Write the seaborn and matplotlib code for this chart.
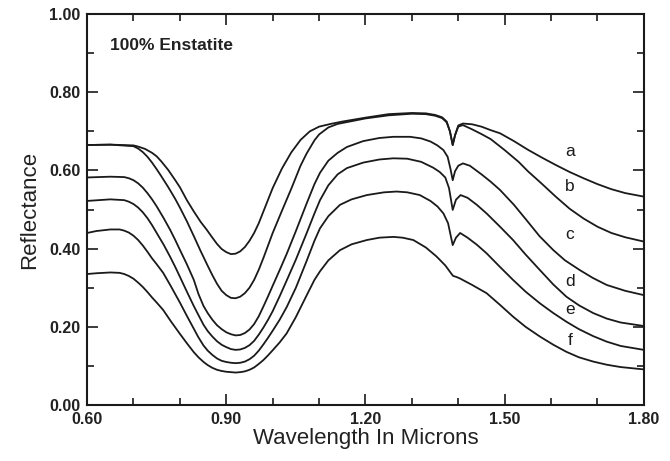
import matplotlib
matplotlib.use("Agg")
import matplotlib.pyplot as plt
import seaborn as sns
import pandas as pd
from matplotlib.ticker import MultipleLocator

# ---- data ----
wl_a = [0.60, 0.65, 0.70, 0.71, 0.725, 0.74, 0.75, 0.76, 0.775, 0.79, 0.80, 0.815, 0.83, 0.845, 0.858, 0.87,
        0.88, 0.89, 0.90, 0.91, 0.92, 0.93, 0.94, 0.95, 0.96, 0.97, 0.98, 1.00, 1.02, 1.04, 1.06, 1.08,
        1.10, 1.125, 1.15, 1.20, 1.25, 1.30, 1.33, 1.35, 1.365, 1.375, 1.382, 1.388, 1.393, 1.40, 1.41,
        1.43, 1.45, 1.47, 1.49, 1.52, 1.55, 1.58, 1.61, 1.64, 1.67, 1.70, 1.73, 1.76, 1.80]
refl_a = [0.665, 0.666, 0.664, 0.661, 0.655, 0.645, 0.636, 0.623, 0.601, 0.575, 0.557, 0.524, 0.495, 0.468, 0.448, 0.428,
          0.412, 0.399, 0.391, 0.386, 0.387, 0.393, 0.404, 0.420, 0.440, 0.465, 0.495, 0.555, 0.605, 0.646, 0.678, 0.700,
          0.712, 0.719, 0.725, 0.735, 0.744, 0.747, 0.746, 0.742, 0.736, 0.725, 0.700, 0.665, 0.690, 0.715, 0.720,
          0.718, 0.712, 0.703, 0.695, 0.675, 0.653, 0.633, 0.614, 0.596, 0.580, 0.565, 0.552, 0.542, 0.533]

wl_b = [0.60, 0.65, 0.70, 0.71, 0.72, 0.73, 0.74, 0.75, 0.76, 0.775, 0.79, 0.80, 0.815, 0.83, 0.845, 0.86,
        0.87, 0.88, 0.89, 0.90, 0.91, 0.92, 0.93, 0.94, 0.95, 0.96, 0.97, 0.98, 1.00, 1.02, 1.04, 1.06,
        1.073, 1.09, 1.10, 1.12, 1.14, 1.17, 1.20, 1.25, 1.30, 1.33, 1.35, 1.365, 1.375, 1.382, 1.388,
        1.393, 1.40, 1.41, 1.43, 1.45, 1.47, 1.50, 1.53, 1.55, 1.58, 1.61, 1.64, 1.67, 1.70, 1.73, 1.76, 1.80]
refl_b = [0.665, 0.666, 0.662, 0.656, 0.647, 0.635, 0.620, 0.603, 0.585, 0.557, 0.527, 0.505, 0.470, 0.432, 0.393, 0.356,
          0.332, 0.310, 0.292, 0.281, 0.274, 0.273, 0.277, 0.286, 0.300, 0.320, 0.346, 0.376, 0.440, 0.497, 0.553, 0.612,
          0.643, 0.677, 0.692, 0.710, 0.719, 0.726, 0.733, 0.741, 0.745, 0.744, 0.740, 0.734, 0.723, 0.700, 0.665,
          0.690, 0.712, 0.716, 0.705, 0.693, 0.680, 0.652, 0.622, 0.598, 0.566, 0.533, 0.502, 0.477, 0.456, 0.440, 0.429, 0.418]

wl_c = [0.60, 0.65, 0.68, 0.69, 0.70, 0.71, 0.72, 0.73, 0.74, 0.75, 0.765, 0.779, 0.79, 0.80, 0.815, 0.83,
        0.84, 0.851, 0.86, 0.87, 0.88, 0.89, 0.90, 0.91, 0.92, 0.93, 0.94, 0.95, 0.96, 0.97, 0.98, 0.99,
        1.00, 1.015, 1.03, 1.05, 1.073, 1.09, 1.102, 1.12, 1.14, 1.16, 1.195, 1.23, 1.26, 1.296, 1.32,
        1.34, 1.355, 1.368, 1.377, 1.383, 1.388, 1.393, 1.40, 1.41, 1.425, 1.45, 1.47, 1.49, 1.52, 1.547,
        1.575, 1.605, 1.63, 1.662, 1.69, 1.72, 1.76, 1.80]
refl_c = [0.582, 0.584, 0.583, 0.580, 0.575, 0.567, 0.556, 0.542, 0.526, 0.508, 0.478, 0.448, 0.422, 0.397, 0.360, 0.320,
          0.284, 0.253, 0.235, 0.218, 0.204, 0.194, 0.186, 0.181, 0.178, 0.179, 0.184, 0.193, 0.207, 0.227, 0.252, 0.278,
          0.305, 0.345, 0.386, 0.445, 0.515, 0.565, 0.594, 0.625, 0.645, 0.660, 0.675, 0.683, 0.686, 0.686, 0.682,
          0.674, 0.664, 0.652, 0.635, 0.605, 0.575, 0.598, 0.612, 0.618, 0.612, 0.590, 0.571, 0.550, 0.512, 0.473,
          0.432, 0.396, 0.370, 0.345, 0.325, 0.307, 0.292, 0.281]

wl_d = [0.60, 0.65, 0.68, 0.69, 0.70, 0.71, 0.72, 0.73, 0.74, 0.75, 0.765, 0.779, 0.79, 0.80, 0.815, 0.83,
        0.84, 0.851, 0.86, 0.87, 0.88, 0.89, 0.90, 0.91, 0.92, 0.93, 0.94, 0.95, 0.96, 0.97, 0.98, 0.99,
        1.00, 1.015, 1.03, 1.05, 1.073, 1.09, 1.102, 1.12, 1.14, 1.16, 1.195, 1.23, 1.26, 1.29, 1.32,
        1.346, 1.36, 1.372, 1.38, 1.388, 1.395, 1.405, 1.42, 1.44, 1.461, 1.49, 1.518, 1.545, 1.576, 1.605,
        1.633, 1.66, 1.691, 1.72, 1.75, 1.80]
refl_d = [0.522, 0.526, 0.524, 0.520, 0.514, 0.505, 0.493, 0.478, 0.460, 0.440, 0.410, 0.379, 0.353, 0.328, 0.290, 0.253,
          0.230, 0.205, 0.189, 0.175, 0.163, 0.154, 0.148, 0.143, 0.141, 0.142, 0.146, 0.153, 0.164, 0.180, 0.198, 0.218,
          0.240, 0.278, 0.318, 0.372, 0.439, 0.490, 0.524, 0.562, 0.590, 0.606, 0.620, 0.628, 0.631, 0.630, 0.622,
          0.607, 0.596, 0.582, 0.555, 0.499, 0.525, 0.537, 0.530, 0.512, 0.490, 0.456, 0.422, 0.385, 0.345, 0.308,
          0.277, 0.255, 0.235, 0.221, 0.211, 0.202]

wl_e = [0.60, 0.62, 0.65, 0.67, 0.68, 0.69, 0.70, 0.71, 0.72, 0.73, 0.74, 0.75, 0.764, 0.78, 0.80, 0.815,
        0.83, 0.84, 0.851, 0.86, 0.87, 0.88, 0.89, 0.90, 0.91, 0.92, 0.93, 0.94, 0.95, 0.96, 0.97, 0.98,
        0.99, 1.00, 1.015, 1.03, 1.05, 1.073, 1.09, 1.102, 1.12, 1.145, 1.17, 1.203, 1.24, 1.267, 1.29,
        1.317, 1.34, 1.355, 1.368, 1.378, 1.388, 1.395, 1.404, 1.42, 1.44, 1.461, 1.49, 1.518, 1.545, 1.576,
        1.605, 1.633, 1.66, 1.691, 1.72, 1.75, 1.80]
refl_e = [0.440, 0.445, 0.449, 0.449, 0.446, 0.441, 0.433, 0.422, 0.408, 0.392, 0.375, 0.360, 0.338, 0.305, 0.262, 0.228,
          0.195, 0.173, 0.152, 0.139, 0.128, 0.119, 0.113, 0.110, 0.108, 0.107, 0.108, 0.111, 0.117, 0.126, 0.139, 0.155,
          0.172, 0.190, 0.218, 0.250, 0.300, 0.368, 0.420, 0.452, 0.483, 0.512, 0.526, 0.537, 0.544, 0.546, 0.544,
          0.537, 0.522, 0.508, 0.490, 0.465, 0.409, 0.428, 0.440, 0.428, 0.410, 0.388, 0.353, 0.320, 0.290, 0.260,
          0.235, 0.213, 0.194, 0.176, 0.162, 0.151, 0.141]

wl_f = [0.60, 0.62, 0.65, 0.67, 0.68, 0.69, 0.70, 0.71, 0.72, 0.73, 0.74, 0.75, 0.764, 0.78, 0.80, 0.815,
        0.83, 0.84, 0.851, 0.86, 0.87, 0.88, 0.89, 0.90, 0.91, 0.92, 0.93, 0.94, 0.95, 0.96, 0.97, 0.98,
        0.99, 1.00, 1.015, 1.03, 1.05, 1.073, 1.09, 1.102, 1.12, 1.145, 1.17, 1.203, 1.23, 1.26, 1.28,
        1.303, 1.33, 1.353, 1.372, 1.385, 1.389, 1.395, 1.403, 1.43, 1.461, 1.49, 1.518, 1.545, 1.576, 1.605,
        1.633, 1.66, 1.691, 1.72, 1.75, 1.80]
refl_f = [0.335, 0.337, 0.339, 0.338, 0.335, 0.330, 0.323, 0.313, 0.302, 0.289, 0.275, 0.262, 0.243, 0.215, 0.182, 0.158,
          0.135, 0.122, 0.110, 0.102, 0.095, 0.090, 0.087, 0.085, 0.084, 0.083, 0.084, 0.086, 0.090, 0.096, 0.105, 0.115,
          0.127, 0.140, 0.160, 0.183, 0.225, 0.280, 0.320, 0.342, 0.370, 0.396, 0.411, 0.422, 0.428, 0.430, 0.428,
          0.422, 0.403, 0.380, 0.357, 0.336, 0.330, 0.328, 0.324, 0.307, 0.286, 0.256, 0.226, 0.200, 0.175, 0.154,
          0.136, 0.122, 0.111, 0.103, 0.097, 0.091]

curve_names = ["a", "b", "c", "d", "e", "f"]
label_x = [1.641, 1.641, 1.641, 1.641, 1.641, 1.641]
label_y = [0.648, 0.560, 0.435, 0.315, 0.243, 0.166]

x_ticks = [0.60, 0.90, 1.20, 1.50, 1.80]
y_ticks = [0.00, 0.20, 0.40, 0.60, 0.80, 1.00]

# ---- plot ----
sns.set_style("ticks")
plt.rcParams["font.family"] = ["Liberation Sans", "DejaVu Sans"]

fig = plt.figure(figsize=(6.70, 4.61), dpi=100)
ax = fig.add_axes([0.130, 0.1215, 0.831, 0.848])

curves = [(wl_a, refl_a), (wl_b, refl_b), (wl_c, refl_c), (wl_d, refl_d), (wl_e, refl_e), (wl_f, refl_f)]
for name, (wl, rf) in zip(curve_names, curves):
    df = pd.DataFrame({"wl": wl, "r": rf})
    sns.lineplot(data=df, x="wl", y="r", ax=ax, color="#1a1a1a", linewidth=1.3,
                 sort=False, estimator=None)

for name, lx, ly in zip(curve_names, label_x, label_y):
    ax.text(lx, ly, name, fontsize=12.5, color="#1a1a1a", ha="center", va="center")

ax.text(0.65, 0.92, "100% Enstatite", fontsize=12.5, fontweight="bold", color="#222222",
        ha="left", va="center")

ax.set_xlim(0.60, 1.80)
ax.set_ylim(0.00, 1.00)
ax.set_xticks(x_ticks)
ax.set_yticks(y_ticks)
ax.set_xticklabels([f"{v:.2f}" for v in x_ticks])
ax.set_yticklabels([f"{v:.2f}" for v in y_ticks])
ax.xaxis.set_minor_locator(MultipleLocator(0.1))
ax.yaxis.set_minor_locator(MultipleLocator(0.1))
ax.tick_params(which="both", direction="in", top=True, right=True, width=1.2, color="#1a1a1a")
ax.tick_params(which="major", length=8, labelsize=11.5, pad=5)
ax.tick_params(which="minor", length=5)
for lab in ax.get_xticklabels() + ax.get_yticklabels():
    lab.set_fontweight("bold")
    lab.set_color("#222222")
for sp in ax.spines.values():
    sp.set_visible(True)
    sp.set_linewidth(1.5)
    sp.set_color("#1a1a1a")

ax.set_xlabel("Wavelength In Microns", fontsize=16, color="#222222", labelpad=1)
ax.set_ylabel("Reflectance", fontsize=16, color="#222222", labelpad=6)

fig.savefig("out.png", dpi=100, facecolor="white")
